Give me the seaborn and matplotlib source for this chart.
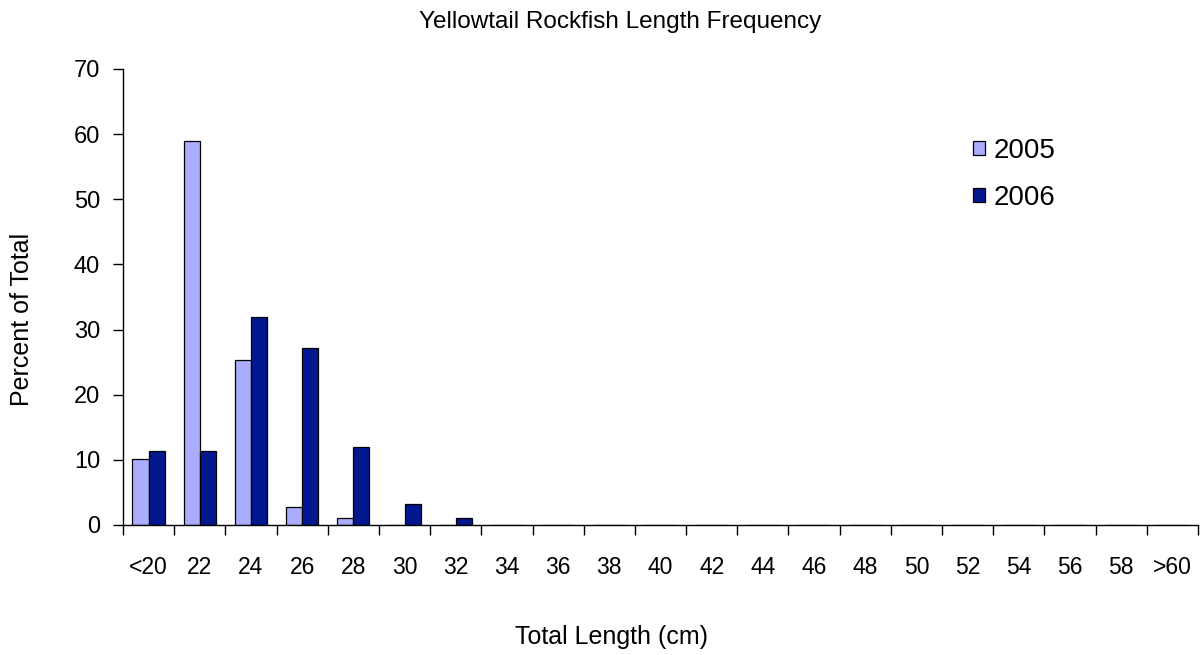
import numpy as np
import pandas as pd
import matplotlib
matplotlib.use("Agg")
import matplotlib.pyplot as plt
import seaborn as sns
from matplotlib.ticker import FixedLocator

categories = ["<20", "22", "24", "26", "28", "30", "32", "34", "36", "38", "40",
              "42", "44", "46", "48", "50", "52", "54", "56", "58", ">60"]
pct_2005 = [10.2, 58.9, 25.3, 2.7, 1.0, 0, 0, 0, 0, 0, 0, 0, 0, 0, 0, 0, 0, 0, 0, 0, 0]
pct_2006 = [11.3, 11.3, 31.9, 27.1, 11.9, 3.2, 1.0, 0, 0, 0, 0, 0, 0, 0, 0, 0, 0, 0, 0, 0, 0]
years = ["2005", "2006"]
y_ticks = [0, 10, 20, 30, 40, 50, 60, 70]

df = pd.DataFrame({
    "Length": categories * 2,
    "Year": [years[0]] * len(categories) + [years[1]] * len(categories),
    "Percent": pct_2005 + pct_2006,
})

sns.set_theme(style="white")
plt.rcParams["font.family"] = ["Liberation Sans", "DejaVu Sans"]
plt.rcParams["text.color"] = "black"
plt.rcParams["axes.labelcolor"] = "black"
plt.rcParams["xtick.color"] = "black"
plt.rcParams["ytick.color"] = "black"

fig = plt.figure(figsize=(12.01, 6.55), dpi=100)
ax = fig.add_axes([0.1024, 0.1985, 0.8951, 0.6962])

palette = {"2005": "#AAADFD", "2006": "#03178F"}
sns.barplot(data=df, x="Length", y="Percent", hue="Year", order=categories,
            hue_order=years, palette=palette, width=0.63, gap=0,
            edgecolor="black", linewidth=0.9, saturation=1, ax=ax)

ax.set_xlim(-0.5, len(categories) - 0.5)
ax.set_ylim(0, 70)
ax.set_yticks(y_ticks)
ax.set_yticklabels([str(v) for v in y_ticks])

# category boundaries as major ticks (no labels), centres as minor ticks with labels
bounds = np.arange(len(categories) + 1) - 0.5
ax.xaxis.set_major_locator(FixedLocator(bounds))
ax.xaxis.set_minor_locator(FixedLocator(np.arange(len(categories))))
ax.set_xticklabels([""] * len(bounds))
ax.set_xticklabels(categories, minor=True)
ax.tick_params(axis="x", which="major", direction="out", length=7.5, width=1.0,
               color="black", bottom=True)
ax.tick_params(axis="x", which="minor", length=0, pad=22, labelsize=16.5, bottom=True)
ax.tick_params(axis="y", direction="out", length=7.5, width=1.0, color="black",
               left=True, pad=9, labelsize=17)

for s in ["top", "right"]:
    ax.spines[s].set_visible(False)
for s in ["left", "bottom"]:
    ax.spines[s].set_color("black")
    ax.spines[s].set_linewidth(1.0)

ax.set_title("Yellowtail Rockfish Length Frequency", fontsize=17.5, x=0.462, y=1.103,
             va="center", pad=0)
ax.set_xlabel("Total Length (cm)", fontsize=18)
ax.xaxis.label.set_va("center")
ax.xaxis.set_label_coords(0.454, -0.2456)
ax.set_ylabel("Percent of Total", fontsize=18)
ax.yaxis.label.set_va("center")
ax.yaxis.set_label_coords(-0.094, 0.45)

leg = ax.legend(loc="upper left", bbox_to_anchor=(0.7805, 0.873), frameon=False,
                fontsize=20, handlelength=0.42, handleheight=0.42, handletextpad=0.32,
                labelspacing=0.75, borderaxespad=0)
for h in leg.legend_handles:
    h.set_edgecolor("black")

fig.savefig("out.png", dpi=100)
